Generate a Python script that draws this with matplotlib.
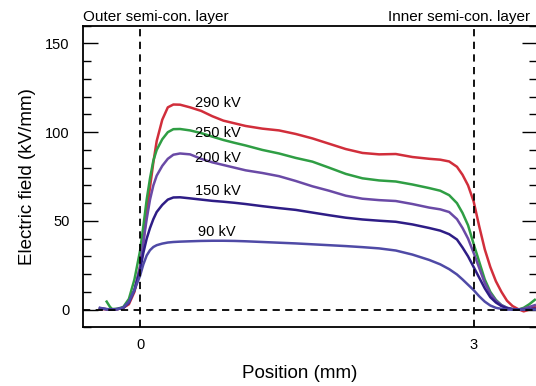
import matplotlib
matplotlib.use("Agg")
import matplotlib.pyplot as plt
from matplotlib.ticker import MultipleLocator

plt.rcParams['font.family'] = ['Liberation Sans', 'DejaVu Sans']

# Position (mm)
x_common = [-0.36, -0.3, -0.25, -0.2, -0.15, -0.1, -0.05, 0.0, 0.03, 0.06, 0.09, 0.12,
            0.15, 0.2, 0.25, 0.3, 0.36, 0.45, 0.55, 0.65, 0.75, 0.85, 0.95, 1.1, 1.25,
            1.4, 1.55, 1.7, 1.85, 2.0, 2.15, 2.3, 2.45, 2.6, 2.7, 2.78, 2.85, 2.9, 2.95,
            3.0, 3.05, 3.1, 3.15, 3.2, 3.25, 3.3, 3.35, 3.4, 3.45, 3.5, 3.55]

x_green = [-0.3, -0.27] + x_common[2:]

e_290 = [0.3, 0.2, 0.0, 0.3, 1.0, 3.0, 10.0, 24.0, 38.0, 55.0, 69.0, 83.0,
         95.0, 107.0, 114.0, 115.6, 115.5, 114.0, 112.0, 109.0, 106.5, 105.0, 103.5, 102.0, 101.0,
         99.0, 96.5, 93.5, 90.5, 88.3, 87.5, 87.7, 86.0, 85.0, 84.5, 83.5, 80.5, 76.0, 70.0,
         61.0, 47.0, 34.0, 24.0, 16.0, 10.0, 5.0, 2.0, 0.3, -1.0, 0.0, 1.5]

e_250 = [4.5, 1.5, 0.3, 0.5, 1.5, 6.0, 17.0, 33.0, 47.0, 62.0, 74.0, 84.0,
         90.0, 96.0, 100.0, 101.7, 101.8, 101.0, 99.5, 97.5, 95.6, 94.0, 92.5, 90.0, 88.0,
         85.5, 83.4, 80.0, 76.5, 74.0, 72.8, 72.2, 70.5, 68.5, 67.0, 64.5, 60.0, 54.5, 47.5,
         37.0, 27.0, 17.0, 10.0, 5.5, 2.5, 1.0, 0.2, 0.0, 1.0, 3.0, 5.5]

e_200 = [0.5, 0.3, 0.1, 0.3, 1.0, 4.0, 11.0, 24.0, 38.0, 51.0, 62.0, 70.0,
         75.5, 81.0, 85.0, 87.3, 88.0, 87.5, 85.0, 83.0, 81.5, 80.0, 78.5, 77.0, 75.2,
         72.5, 69.5, 67.0, 64.2, 62.5, 61.7, 61.2, 59.5, 57.5, 56.5, 55.0, 51.0, 46.0, 40.0,
         32.0, 23.5, 15.0, 9.0, 5.0, 2.5, 1.0, 0.3, 0.0, 0.5, 1.5, 2.5]

e_150 = [0.8, 0.2, 0.0, 0.3, 1.0, 4.0, 11.0, 22.0, 32.0, 40.0, 46.0, 51.0,
         55.0, 59.0, 62.0, 63.2, 63.3, 62.7, 62.0, 61.3, 60.8, 60.2, 59.5, 58.3, 57.2,
         56.2, 54.7, 53.2, 51.8, 50.8, 50.1, 49.5, 48.0, 46.0, 44.5, 42.5, 39.5, 35.0, 30.0,
         24.0, 18.0, 12.0, 7.0, 4.0, 2.0, 0.8, 0.2, 0.0, 0.0, 0.3, 0.5]

e_90 = [1.0, 0.2, 0.0, 0.3, 1.2, 4.5, 11.0, 19.0, 25.5, 30.5, 33.5, 35.3,
        36.3, 37.2, 37.8, 38.1, 38.3, 38.5, 38.7, 38.8, 38.8, 38.7, 38.5, 38.1, 37.7,
        37.3, 36.8, 36.3, 35.8, 35.2, 34.5, 33.3, 31.0, 28.0, 25.5, 22.8, 19.8, 17.0, 14.0,
        11.0, 7.5, 4.5, 2.3, 1.0, 0.4, 0.0, 0.0, 0.0, 0.0, 0.0, 0.0]

labels = ["290 kV", "250 kV", "200 kV", "150 kV", "90 kV"]
label_x = [0.49, 0.49, 0.49, 0.49, 0.52]
label_y = [116.5, 99.8, 85.5, 66.8, 43.7]
colors = ["#d12e3b", "#2f9e44", "#6a4aa6", "#2e1d86", "#4f4aa6"]

fig = plt.figure(figsize=(5.36, 3.86), dpi=100)
ax = fig.add_axes([0.1554, 0.152, 0.8465, 0.7813])

series = [(x_common, e_290), (x_green, e_250), (x_common, e_200),
          (x_common, e_150), (x_common, e_90)]
for (xs, ys), c in zip(series, colors):
    ax.plot(xs, ys, color=c, lw=1.8, solid_joinstyle='round', zorder=3)

for t, lx, ly in zip(labels, label_x, label_y):
    ax.text(lx, ly, t, fontsize=10.5, ha='left', va='center', color='black', zorder=5)

ax.axvline(0, color='black', ls=(0, (4, 3)), lw=1.3, zorder=4)
ax.axvline(3, color='black', ls=(0, (4, 3)), lw=1.3, zorder=4)
ax.axhline(0, color='black', ls=(0, (4, 3)), lw=1.3, zorder=4)

ax.set_xlim(-0.51, 3.57)
ax.set_ylim(-10, 160)
ax.set_xticks([0, 3])
ax.set_xticklabels(["0", "3"])
ax.tick_params(axis='x', length=0, labelsize=10.5, pad=8)
ax.yaxis.set_major_locator(MultipleLocator(50))
ax.yaxis.set_minor_locator(MultipleLocator(10))
ax.tick_params(axis='y', which='major', direction='in', length=11, width=1.0,
               labelsize=10.5, right=True, pad=10)
ax.tick_params(axis='y', which='minor', direction='in', length=6, width=1.0, right=True)
for s in ax.spines.values():
    s.set_linewidth(1.3)

ax.set_xlabel("Position (mm)", fontsize=13.5)
ax.xaxis.set_label_coords(0.478, -0.125)
ax.set_ylabel("Electric field (kV/mm)", fontsize=13.5)
ax.yaxis.set_label_coords(-0.105, 0.5)

fig.text(83 / 536, 1 - 21 / 386, "Outer semi-con. layer", fontsize=11, ha='left', va='baseline')
fig.text(530 / 536, 1 - 21 / 386, "Inner semi-con. layer", fontsize=11, ha='right', va='baseline')

fig.savefig("out.png", dpi=100)
